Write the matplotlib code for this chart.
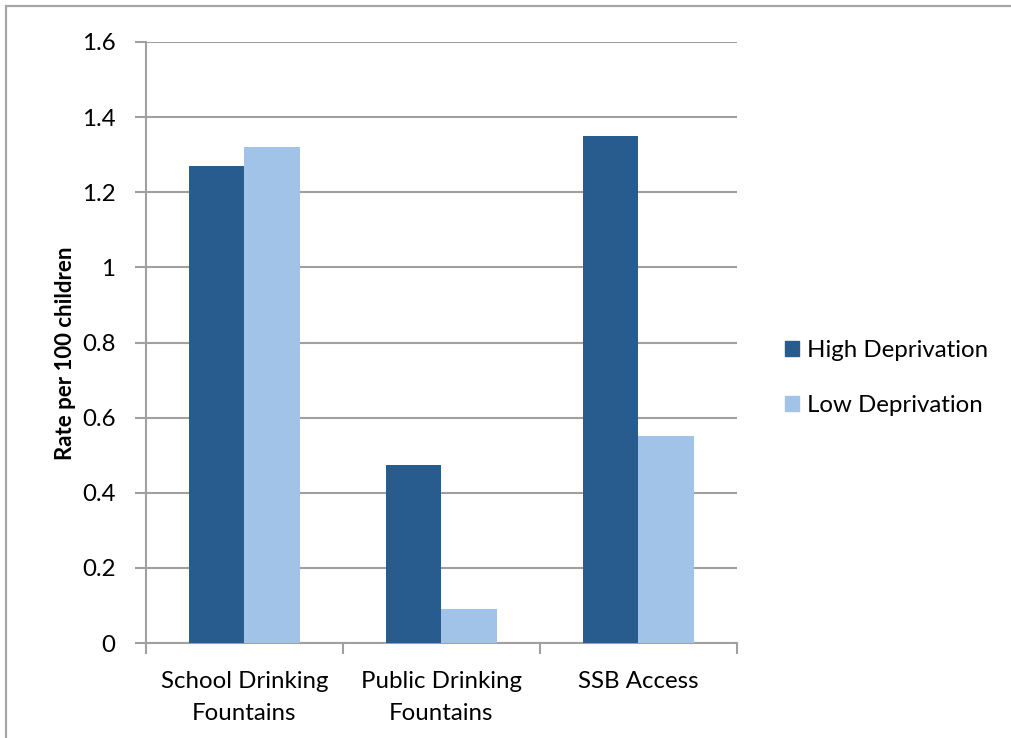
import matplotlib
matplotlib.use("Agg")
import matplotlib.pyplot as plt
import numpy as np
from matplotlib.patches import Rectangle, Patch

categories = ["School Drinking\nFountains", "Public Drinking\nFountains", "SSB Access"]
high_deprivation = [1.27, 0.475, 1.35]
low_deprivation = [1.32, 0.09, 0.55]
series_names = ["High Deprivation", "Low Deprivation"]
y_ticks = [0, 0.2, 0.4, 0.6, 0.8, 1, 1.2, 1.4, 1.6]
y_tick_labels = ["0", "0.2", "0.4", "0.6", "0.8", "1", "1.2", "1.4", "1.6"]

DARK = "#285C8F"
LIGHT = "#A1C3E8"
GRID = "#A0A0A0"
FS = 17.3

plt.rcParams["font.family"] = ["Lato", "DejaVu Sans"]

fig = plt.figure(figsize=(10.12, 7.38), dpi=100)
ax = fig.add_axes([146 / 1012, 1 - 643 / 738, (737 - 146) / 1012, (643 - 42) / 738])

# outer chart frame
fig.patches.append(Rectangle((6 / 1012, -0.05), 1.1, 1 - 6 / 738 + 0.05,
                             transform=fig.transFigure, fill=False,
                             edgecolor="#A6A6A6", linewidth=1.6, zorder=0))

x = np.arange(len(categories))
w = 0.282
ax.bar(x - w / 2, high_deprivation, width=w, color=DARK, zorder=3)
ax.bar(x + w / 2, low_deprivation, width=w, color=LIGHT, zorder=3)

ax.set_xlim(-0.5, len(categories) - 0.5)
ax.set_ylim(0, 1.6)
ax.set_yticks(y_ticks)
ax.set_yticklabels(y_tick_labels)
ax.yaxis.grid(True, color=GRID, linewidth=1.5, zorder=0)
ax.set_axisbelow(True)

ax.set_xticks(x)
ax.set_xticklabels(categories, linespacing=1.66)
ax.set_xticks(np.arange(len(categories) + 1) - 0.5, minor=True)
ax.tick_params(axis="x", which="major", length=0, pad=20, labelsize=FS)
ax.tick_params(axis="x", which="minor", length=8, width=1.5, color=GRID, direction="out")
ax.tick_params(axis="y", length=8, width=1.5, color=GRID, direction="out", pad=14, labelsize=FS)

for s in ["top", "right"]:
    ax.spines[s].set_visible(False)
for s in ["left", "bottom"]:
    ax.spines[s].set_color(GRID)
    ax.spines[s].set_linewidth(1.5)

ax.set_ylabel("Rate per 100 children", fontsize=16, fontweight="bold")
ax.yaxis.set_label_coords(-0.118, 0.4825)

handles = [Patch(color=DARK), Patch(color=LIGHT)]
fig.legend(handles, series_names, loc="center left", bbox_to_anchor=(785 / 1012, 1 - 378 / 738),
           frameon=False, fontsize=FS, handlelength=0.6, handleheight=0.6,
           handletextpad=0.32, labelspacing=1.42, borderpad=0, borderaxespad=0)

fig.savefig("out.png", dpi=100)
